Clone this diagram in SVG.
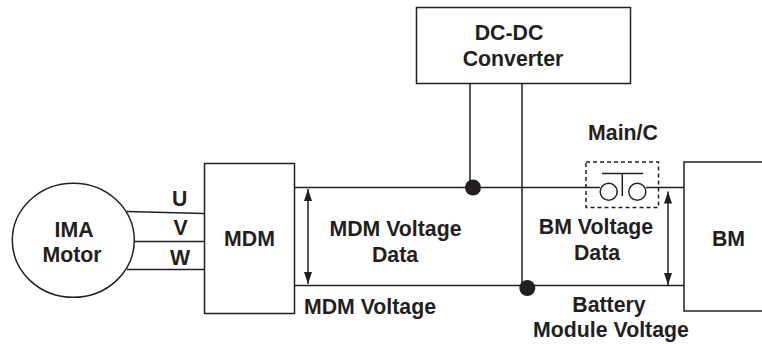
<svg xmlns="http://www.w3.org/2000/svg" width="762" height="344" viewBox="0 0 762 344">
<style>
.s{fill:#fff;stroke:#231f20;stroke-width:1.5}
.l{fill:none;stroke:#231f20;stroke-width:1.5}
.a{fill:none;stroke:#231f20;stroke-width:1.5;marker-start:url(#ah);marker-end:url(#ah)}
.d{fill:#231f20}
text{font-family:"Liberation Sans",Arial,sans-serif;font-weight:bold;font-size:21.3px;fill:#231f20;text-anchor:middle}
</style>
<defs><marker id="ah" markerUnits="userSpaceOnUse" markerWidth="12" markerHeight="8" refX="12" refY="4" viewBox="0 0 12 8" orient="auto-start-reverse"><path d="M0 0L12 4L0 8Z" fill="#231f20"/></marker></defs>
<g id="connectors">
<path class="l" d="M127 211.500L204 213.500M135 241.500H204M127 269.500H204"/>
<path class="l" d="M294 187.500H600M646 187.500H684M294 285.500H684"/>
<path class="l" d="M470 81V188M522 81V286"/>
<path class="a" d="M308 189V284"/>
<path class="a" d="M668 191.500V285"/>
<circle class="d" cx="473" cy="187.500" r="8"/>
<circle class="d" cx="527.300" cy="288" r="8"/>
</g>
<g id="motor"><ellipse class="s" cx="73.300" cy="240.300" rx="61" ry="57"/><text x="74" y="236.500">IMA</text><text x="72" y="261.500">Motor</text></g>
<g id="mdm"><rect class="s" x="204.500" y="163.500" width="90" height="150"/><text x="249.500" y="246">MDM</text></g>
<g id="dcdc"><rect class="s" x="416.500" y="7.500" width="214" height="76"/><text x="509" y="40">DC-DC</text><text x="513" y="66">Converter</text></g>
<g id="contactor">
<rect x="586" y="162" width="72.500" height="45.500" fill="none" stroke="#231f20" stroke-width="1.500" stroke-dasharray="4 3"/>
<circle class="l" cx="608.700" cy="191.700" r="8.500"/><circle class="l" cx="637.300" cy="191.700" r="8.500"/>
<path class="l" d="M602 173.500H643M622.300 173.500V196"/>
</g>
<g id="bm"><path class="l" d="M762 162H684V311H762"/><text x="728.500" y="246">BM</text></g>
<g id="labels">
<text x="179.600" y="206">U</text><text x="180.500" y="235">V</text><text x="180" y="265">W</text>
<text x="395.500" y="236">MDM Voltage</text><text x="395" y="262">Data</text>
<text x="370" y="314">MDM Voltage</text>
<text x="596" y="234">BM Voltage</text><text x="597" y="260">Data</text>
<text x="623" y="140">Main/C</text>
<text x="609" y="312">Battery</text><text x="611" y="337">Module Voltage</text>
</g>
</svg>
